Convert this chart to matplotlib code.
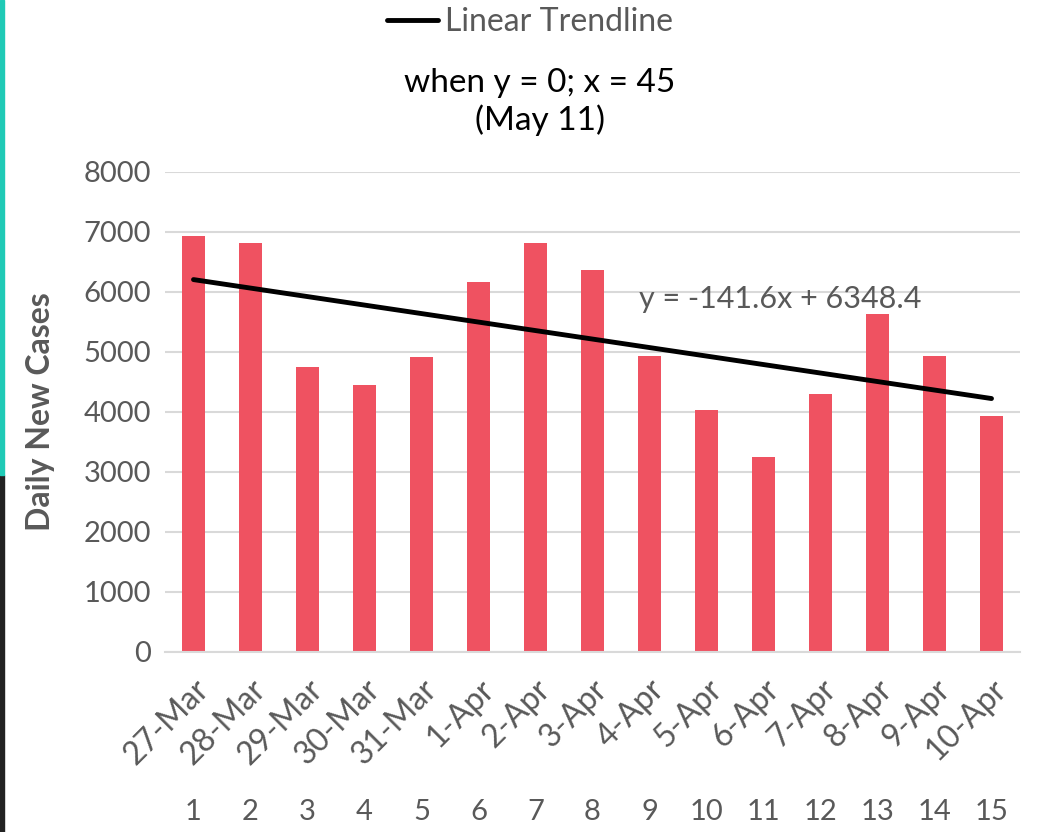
import numpy as np
import matplotlib.pyplot as plt
from matplotlib.patches import Rectangle

# data
dates = ['27-Mar', '28-Mar', '29-Mar', '30-Mar', '31-Mar', '1-Apr', '2-Apr', '3-Apr',
         '4-Apr', '5-Apr', '6-Apr', '7-Apr', '8-Apr', '9-Apr', '10-Apr']
day_no = list(range(1, 16))
new_cases = [6933, 6822, 4745, 4455, 4922, 6172, 6811, 6367,
             4933, 4033, 3255, 4294, 5633, 4933, 3939]
slope = -141.6
intercept = 6348.4

plt.rcParams['font.family'] = ['Lato', 'DejaVu Sans']
grey = '#595959'

fig = plt.figure(figsize=(10.46, 8.32), dpi=100)
ax = fig.add_axes([165 / 1046, 1 - 652 / 832, 855 / 1046, 480 / 832])

x = np.array(day_no)
ax.bar(x, new_cases, width=0.41, color='#EF5261', zorder=2)
trend = slope * x + intercept
ax.plot(x, trend, color='black', lw=3.5, solid_capstyle='round', zorder=3,
        label='Linear Trendline')

ax.set_xlim(0.5, 15.5)
ax.set_ylim(0, 8000)
ax.set_yticks(range(0, 8001, 1000))
ax.grid(axis='y', color='#d9d9d9', lw=1.5, zorder=0)
for s in ['top', 'right', 'left']:
    ax.spines[s].set_visible(False)
ax.spines['bottom'].set_color('#d9d9d9')
ax.spines['bottom'].set_linewidth(1.5)
ax.tick_params(axis='both', length=0, labelsize=21, labelcolor=grey)
ax.tick_params(axis='y', pad=10)

ax.set_xticks(x)
ax.set_xticklabels(dates, rotation=45, ha='right', rotation_mode='anchor')
ax.tick_params(axis='x', pad=16)
for lab in ax.get_xticklabels():
    lab.set_fontsize(23)

ax.set_ylabel('Daily New Cases', fontsize=23, fontweight='bold', color=grey)
ax.yaxis.set_label_coords(-110 / 855, 0.5)

# second row of category labels (day number)
for xi, d in zip(x, day_no):
    px = ax.transData.transform((xi, 0))[0] / fig.bbox.width
    fig.text(px, 1 - 812 / 832, str(d), ha='center', va='center',
             fontsize=21, color=grey)

ax.text(11.3, 5880, 'y = -141.6x + 6348.4', ha='center', va='center',
        fontsize=22, color=grey)

fig.legend(loc='center', bbox_to_anchor=(530 / 1046, 1 - 22 / 832), frameon=False,
           fontsize=23, handlelength=1.6, handletextpad=0.2, labelcolor=grey,
           borderpad=0, borderaxespad=0)

fig.text(540 / 1046, 1 - 102 / 832, 'when y = 0; x = 45\n(May 11)', ha='center',
         va='center', fontsize=24, color='black', linespacing=1.25)

# slide edge decoration on the left
fig.patches.append(Rectangle((0, 0), 4 / 1046, 357 / 832, transform=fig.transFigure,
                             color='#222222'))
fig.patches.append(Rectangle((0, 357 / 832), 4 / 1046, 475 / 832, transform=fig.transFigure,
                             color='#1FCAB6'))

fig.savefig('out.png', dpi=100)
